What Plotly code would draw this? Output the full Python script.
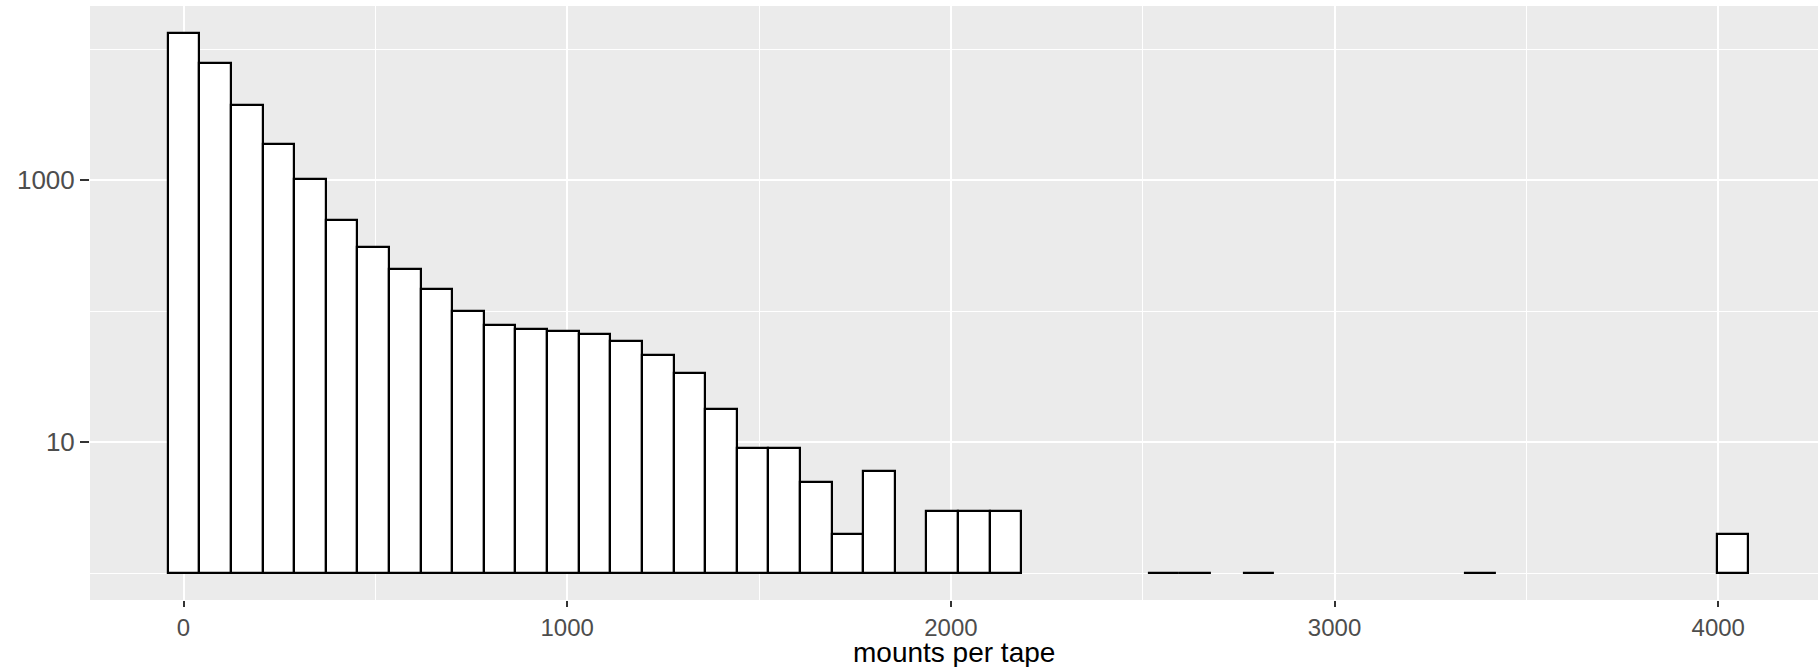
import plotly.graph_objects as go

# histogram: 50 bins of width 82.4, first bin centred on 0
bin_width = 82.4
counts = [13250, 7850, 3740, 1880, 1030, 500, 311, 211, 147, 100,
          78, 73, 70, 67, 59, 46, 34, 18, 9, 9,
          5, 2, 6, 1, 3, 3, 3, 0, 0, 0,
          0, 1, 1, 0, 1, 0, 0, 0, 0, 0,
          0, 1, 0, 0, 0, 0, 0, 0, 0, 2]
x_ticks = [0, 1000, 2000, 3000, 4000]
y_ticks = [10, 1000]
y_minor = [1, 100, 10000]
x_title = "mounts per tape"

centers = [k * bin_width for k in range(len(counts))]
xs = [c for c, n in zip(centers, counts) if n > 0]
ns = [n for n in counts if n > 0]

FONT = "Liberation Sans, Arial, sans-serif"

fig = go.Figure(go.Bar(
    x=xs,
    y=[n - 1 for n in ns],
    base=1,
    width=bin_width,
    customdata=ns,
    hovertemplate="%{x}: %{customdata}<extra></extra>",
    marker=dict(color="white", line=dict(color="black", width=2.2)),
))

fig.update_layout(
    width=1818, height=667,
    margin=dict(l=90, r=0, t=6, b=67, pad=0),
    paper_bgcolor="white",
    plot_bgcolor="#EBEBEB",
    showlegend=False,
    bargap=0,
    font=dict(family=FONT, color="#4D4D4D"),
    annotations=[dict(
        text=x_title, xref="paper", yref="paper", x=0.5, y=0,
        xanchor="center", yanchor="top", yshift=-36, showarrow=False,
        borderpad=0, font=dict(size=28, color="black", family=FONT),
    )],
)

fig.update_xaxes(
    range=[-243.7, 4260],
    tickvals=x_ticks,
    ticktext=[str(v) for v in x_ticks],
    showgrid=True, gridcolor="white", gridwidth=2,
    minor=dict(dtick=500, tick0=0, showgrid=True, gridcolor="white", gridwidth=1, ticks=""),
    ticks="outside", ticklen=6, tickwidth=2, tickcolor="#333333",
    tickfont=dict(size=24, color="#4D4D4D", family=FONT),
    zeroline=False, showline=False,
)

fig.update_yaxes(
    type="log",
    range=[-0.206, 4.331],
    tickvals=y_ticks,
    ticktext=[str(v) for v in y_ticks],
    showgrid=True, gridcolor="white", gridwidth=2,
    minor=dict(tickvals=y_minor, showgrid=True, gridcolor="white", gridwidth=1, ticks=""),
    ticks="outside", ticklen=9, tickwidth=2, tickcolor="#333333",
    tickfont=dict(size=26, color="#4D4D4D", family=FONT),
    zeroline=False, showline=False,
)

fig.write_html("out.html")
